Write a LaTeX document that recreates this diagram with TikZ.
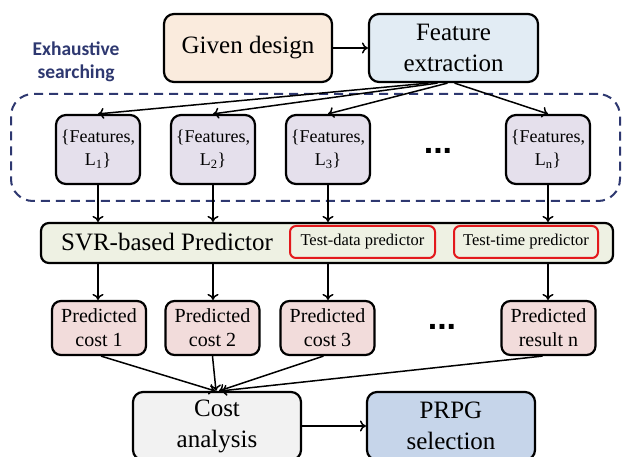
\documentclass[tikz,border=0pt]{standalone}
\usepackage{fontspec}
\setmainfont{Liberation Serif}
\usetikzlibrary{arrows.meta}
\definecolor{navy}{HTML}{2E3870}
\definecolor{cgiven}{HTML}{FAEBDD}
\definecolor{cfext}{HTML}{E2ECF4}
\definecolor{cfeat}{HTML}{E5E0EC}
\definecolor{csvr}{HTML}{EEF1E3}
\definecolor{cpred}{HTML}{F2DCDB}
\definecolor{ccost}{HTML}{F2F2F2}
\definecolor{cprpg}{HTML}{C6D5EA}
\definecolor{cred}{HTML}{E3191C}
\begin{document}
\begin{tikzpicture}[x=1pt,y=-1pt,
  bigbox/.style={draw=black, line width=2.2pt, rounded corners=10pt, align=center, inner sep=0pt,
    minimum width=168pt, minimum height=68pt, font=\rmfamily\fontsize{25}{31}\selectfont},
  featbox/.style={draw=black, line width=2.2pt, rounded corners=10pt, align=center, inner sep=0pt,
    minimum width=84pt, minimum height=69pt, fill=cfeat, font=\rmfamily\fontsize{18}{23}\selectfont},
  predbox/.style={draw=black, line width=2.2pt, rounded corners=9pt, align=center, inner sep=0pt,
    minimum width=94pt, minimum height=54pt, fill=cpred, font=\rmfamily\fontsize{20}{24}\selectfont},
  redbox/.style={draw=cred, line width=2pt, rounded corners=6pt, inner sep=0pt,
    minimum height=32pt, font=\rmfamily\fontsize{16.5}{20}\selectfont},
  arr/.style={-{To[length=6pt,width=11pt]}, line width=1.5pt},
  dotsnode/.style={font=\fontspec{Liberation Sans Bold}\fontsize{34}{34}\selectfont, inner sep=0pt}
]
\useasboundingbox (0,0) rectangle (624,457);

% top row
\node[bigbox, fill=cgiven] (given) at (248,48) {Given design};
\node[bigbox, fill=cfext, minimum width=169pt] (fext) at (453.5,48) {Feature\\extraction};

% exhaustive searching region
\node[draw=navy, line width=2pt, dash pattern=on 9pt off 6pt, rounded corners=22pt,
      minimum width=609pt, minimum height=107pt, inner sep=0pt] (search) at (315.5,147.5) {};
\node[font=\fontspec{Carlito Bold}\fontsize{19.5}{23}\selectfont, text=navy, align=center, inner sep=0pt]
      (lbl) at (76,62) {Exhaustive\\searching};

% feature boxes
\node[featbox] (f1) at (98,149.5) {\{Features,\\L\textsubscript{1}\}};
\node[featbox] (f2) at (213,149.5) {\{Features,\\L\textsubscript{2}\}};
\node[featbox] (f3) at (328,149.5) {\{Features,\\L\textsubscript{3}\}};
\node[featbox] (fn) at (548,149.5) {\{Features,\\L\textsubscript{n}\}};
\node[dotsnode] (dots1) at (438,151) {...};

% predictor
\node[draw=black, line width=2.2pt, rounded corners=8pt, fill=csvr, inner sep=0pt,
      minimum width=572pt, minimum height=40pt] (svr) at (327,243) {};
\node[font=\rmfamily\fontsize{25}{30}\selectfont, inner sep=0pt] (svrlbl) at (167,242) {SVR-based Predictor};
\node[redbox, minimum width=145pt] (tdp) at (362.5,242) {Test-data predictor};
\node[redbox, minimum width=144pt] (ttp) at (526,242) {Test-time predictor};

% predicted boxes
\node[predbox] (p1) at (99,328) {Predicted\\cost 1};
\node[predbox] (p2) at (212.5,328) {Predicted\\cost 2};
\node[predbox] (p3) at (327.5,328) {Predicted\\cost 3};
\node[predbox] (pn) at (548.5,328) {Predicted\\result n};
\node[dotsnode] (dots2) at (442,327) {...};

% bottom row
\node[bigbox, fill=ccost] (cost) at (217,426) {Cost\\analysis};
\node[bigbox, fill=cprpg] (prpg) at (451,426) {PRPG\\selection};

% connectors
\draw[arr] (given) -- (fext);
\draw[arr] ([xshift=-25pt]fext.south) -- (f1.north);
\draw[arr] ([xshift=-16pt]fext.south) -- (f2.north);
\draw[arr] ([xshift=-6pt]fext.south) -- (f3.north);
\draw[arr] ([xshift=1pt]fext.south) -- (fn.north);

\foreach \f/\p in {f1/p1,f2/p2,f3/p3,fn/pn}{
  \draw[arr] (\f.south) -- (\f.south |- svr.north);
  \draw[arr] (\f.south |- svr.south) -- (\f.south |- \p.north);
}

\draw[arr] ([xshift=2pt]p1.south) -- ([xshift=-2pt]cost.north);
\draw[arr] (p2.south) -- ([xshift=-1pt]cost.north);
\draw[arr] ([xshift=-4pt]p3.south) -- ([xshift=2pt]cost.north);
\draw[arr] ([xshift=-6pt]pn.south) -- ([xshift=4pt]cost.north);
\draw[arr] (cost) -- (prpg);
\end{tikzpicture}
\end{document}
